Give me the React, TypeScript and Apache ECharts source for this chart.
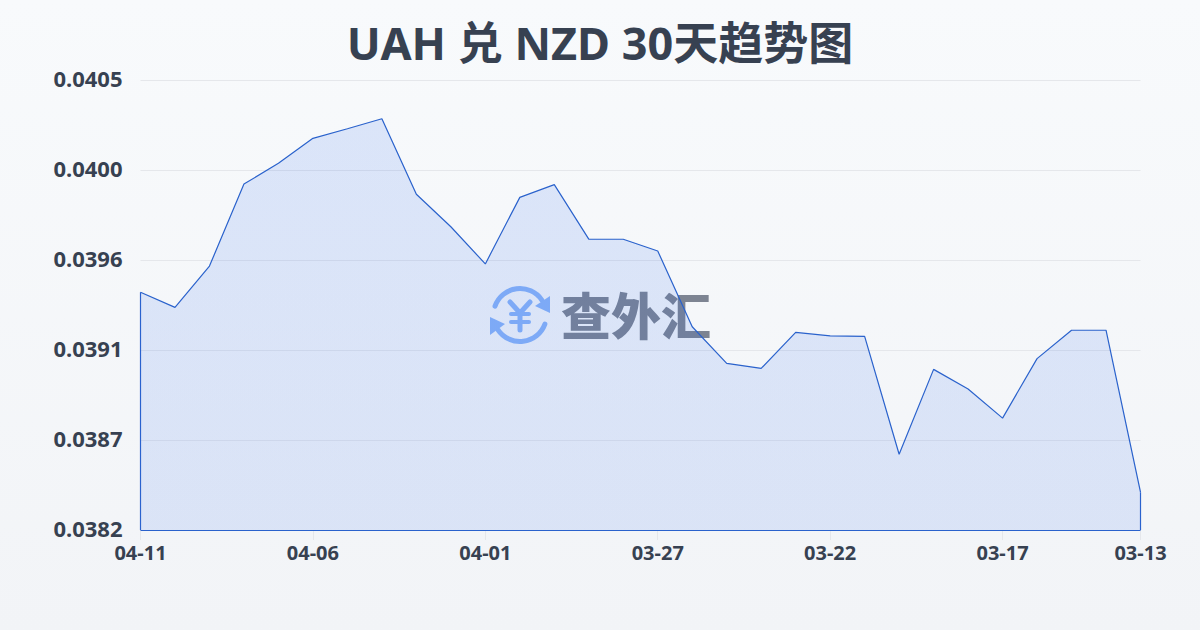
import React, { useEffect, useRef } from "react";
import * as echarts from "echarts";

const titleText = "UAH 兑 NZD 30天趋势图";
const dates = ["04-11","04-10","04-09","04-08","04-07","04-06","04-05","04-04","04-03","04-02","04-01","03-31","03-30","03-29","03-28","03-27","03-26","03-25","03-24","03-23","03-22","03-21","03-20","03-19","03-18","03-17","03-16","03-15","03-14","03-13"];
const rates = [0.039415,0.039338,0.039549,0.039968,0.040074,0.040202,0.040251,0.040302,0.039916,0.03975,0.03956,0.0399,0.039965,0.039687,0.039686,0.039626,0.039239,0.039052,0.039026,0.03921,0.039192,0.03919,0.038587,0.039021,0.038921,0.038772,0.039076,0.039221,0.039221,0.038393];
const yMin = 0.0382;
const yMax = 0.0405;
const yStep = 0.00046;
const logoText = "查外汇";

const FONT = '"Noto Sans", "Noto Sans CJK SC", sans-serif';
const INK = "#374151";
const LINE = "#2a62cc";
const ICON = "#8ab4f8";

export default function App() {
  const ref = useRef<HTMLDivElement>(null);
  useEffect(() => {
    document.body.style.margin = "0";
    const chart = echarts.init(ref.current!, null, { renderer: "svg" });
    const last = dates.length - 1;
    chart.setOption({
      animation: false,
      backgroundColor: new echarts.graphic.LinearGradient(0, 0, 0, 1, [
        { offset: 0, color: "#f8fafc" },
        { offset: 1, color: "#f2f4f7" },
      ]),
      title: {
        text: titleText,
        left: "center",
        top: 15,
        textStyle: { fontFamily: FONT, fontSize: 45, fontWeight: "bold", color: INK },
      },
      grid: { left: 140.5, right: 59.5, top: 80, bottom: 100 },
      xAxis: {
        type: "category",
        data: dates,
        boundaryGap: false,
        axisLine: { show: false },
        axisTick: {
          show: true,
          length: 10,
          alignWithLabel: true,
          interval: (i: number) => i % 5 === 0 || i === last,
          lineStyle: { color: "#e5e7eb" },
        },
        axisLabel: {
          interval: (i: number) => i % 5 === 0 || i === last,
          showMaxLabel: true,
          margin: 12,
          fontFamily: FONT,
          fontSize: 20,
          fontWeight: "bold",
          color: INK,
        },
        splitLine: { show: false },
      },
      yAxis: {
        type: "value",
        min: yMin,
        max: yMax,
        interval: yStep,
        axisLine: { show: false },
        axisTick: { show: false },
        axisLabel: {
          margin: 18,
          verticalAlign: "bottom",
          lineHeight: 4,
          fontFamily: FONT,
          fontSize: 22,
          fontWeight: "bold",
          color: INK,
          formatter: (v: number) => v.toFixed(4),
        },
        splitLine: { show: true, lineStyle: { color: "#e5e7eb", width: 1 } },
      },
      series: [
        {
          type: "line",
          z: 5,
          data: rates,
          smooth: false,
          symbol: "none",
          lineStyle: { color: LINE, width: 1.2 },
          areaStyle: {
            origin: "start",
            color: new echarts.graphic.LinearGradient(0, 0, 0, 1, [
              { offset: 0, color: "rgba(37,99,235,0.19)" },
              { offset: 1, color: "rgba(37,99,235,0.17)" },
            ]),
          },
          markLine: {
            silent: true,
            symbol: "none",
            label: { show: false },
            lineStyle: { color: LINE, width: 1.2, type: "solid" },
            data: [
              [{ xAxis: dates[0], yAxis: yMin }, { xAxis: dates[0], yAxis: rates[0] }],
              [{ xAxis: dates[0], yAxis: yMin }, { xAxis: dates[last], yAxis: yMin }],
              [{ xAxis: dates[last], yAxis: yMin }, { xAxis: dates[last], yAxis: rates[last] }],
            ],
          },
        },
      ],
      graphic: [
        {
          type: "group",
          z: 1,
          children: [
            { type: "arc", shape: { cx: 520, cy: 315, r: 26.5, startAngle: -2.8, endAngle: -0.6, clockwise: true }, style: { stroke: ICON, fill: "none", lineWidth: 5, lineCap: "round" } },
            { type: "arc", shape: { cx: 520, cy: 315, r: 26.5, startAngle: 0.35, endAngle: 2.55, clockwise: true }, style: { stroke: ICON, fill: "none", lineWidth: 5, lineCap: "round" } },
            { type: "polygon", shape: { points: [[550, 296], [550, 313], [535, 306]] }, style: { fill: ICON } },
            { type: "polygon", shape: { points: [[490, 335], [490, 317], [505, 324]] }, style: { fill: ICON } },
            { type: "polyline", shape: { points: [[510, 302], [520, 313], [530, 302]] }, style: { stroke: ICON, fill: "none", lineWidth: 5, lineCap: "round" } },
            { type: "line", shape: { x1: 520, y1: 313, x2: 520, y2: 330 }, style: { stroke: ICON, lineWidth: 5, lineCap: "round" } },
            { type: "line", shape: { x1: 511, y1: 314, x2: 529, y2: 314 }, style: { stroke: ICON, lineWidth: 4, lineCap: "round" } },
            { type: "line", shape: { x1: 511, y1: 322, x2: 529, y2: 322 }, style: { stroke: ICON, lineWidth: 4, lineCap: "round" } },
            {
              type: "text",
              x: 636,
              y: 313,
              style: {
                text: logoText,
                fill: "#7d8492",
                font: '900 50px "Noto Sans CJK SC", sans-serif',
                textAlign: "center",
                textVerticalAlign: "middle",
              },
            },
          ],
        },
      ],
    });
    return () => chart.dispose();
  }, []);
  return <div ref={ref} style={{ width: 1200, height: 630 }} />;
}
